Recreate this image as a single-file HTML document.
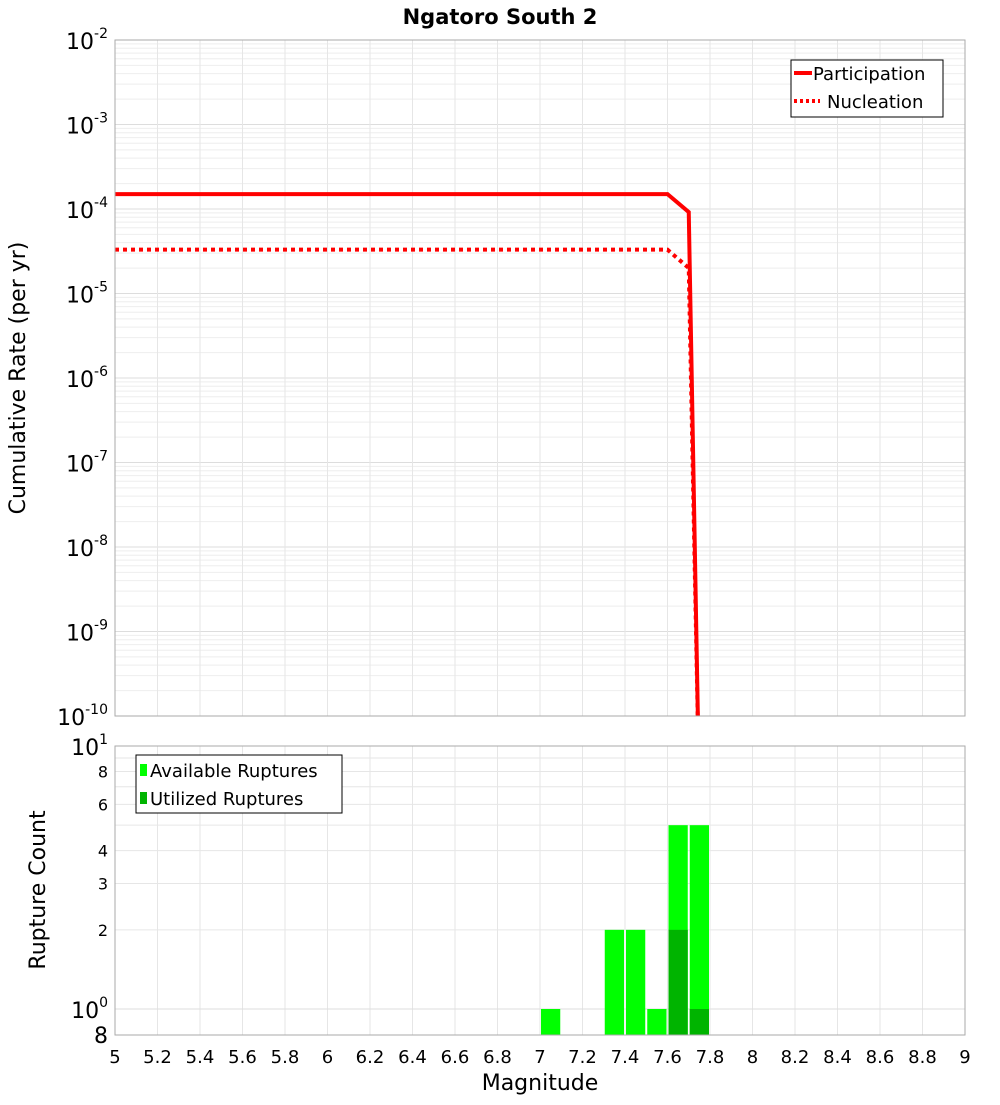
<!DOCTYPE html>
<html><head><meta charset="utf-8"><style>
body{margin:0;background:#fff;font-family:"Liberation Sans","DejaVu Sans",sans-serif}
</style></head><body>
<svg id="c" width="1000" height="1100" xmlns="http://www.w3.org/2000/svg" font-family="DejaVu Sans, Liberation Sans, sans-serif">
<text x="500" y="24" text-anchor="middle" font-size="21" font-weight="bold">Ngatoro South 2</text>
<g id="topg"></g>
<g id="botg"></g>
<text transform="translate(25,378) rotate(-90)" text-anchor="middle" font-size="22">Cumulative Rate (per yr)</text>
<text transform="translate(45,890) rotate(-90)" text-anchor="middle" font-size="22">Rupture Count</text>
<text x="540" y="1090" text-anchor="middle" font-size="22">Magnitude</text>
<g id="legs">
<g>
<rect x="791" y="60" width="152" height="57" fill="#fff" stroke="#000"/>
<line x1="794" y1="73" x2="812" y2="73" stroke="red" stroke-width="4"/>
<text x="813" y="80" font-size="18">Participation</text>
<line x1="794" y1="101" x2="820" y2="101" stroke="red" stroke-width="4" stroke-dasharray="3,3"/>
<text x="827" y="108" font-size="18">Nucleation</text>
</g>
<g>
<rect x="136" y="755" width="206" height="58" fill="#fff" stroke="#000"/>
<rect x="140" y="764" width="7" height="12" fill="#00ff00"/>
<text x="150" y="777" font-size="18">Available Ruptures</text>
<rect x="140" y="792" width="7" height="12" fill="#00b400"/>
<text x="150" y="805" font-size="18">Utilized Ruptures</text>
</g>
</g>
</svg>
<script>
const magsP=[5.0,7.6,7.7,7.75];
const partRates=[1.5e-4,1.5e-4,9.2e-5,1e-11];
const nuclRates=[3.3e-5,3.3e-5,2.0e-5,1e-11];
const binMags=[7.0,7.3,7.4,7.5,7.6,7.7];
const availCounts=[1,2,2,1,5,5];
const usedCounts=[0,0,0,0,2,1];
const xTicks=[5,5.2,5.4,5.6,5.8,6,6.2,6.4,6.6,6.8,7,7.2,7.4,7.6,7.8,8,8.2,8.4,8.6,8.8,9];
const NS='http://www.w3.org/2000/svg';
const L=115,R=965,T1=40,B1=716,T2=746,B2=1035;
const X=m=>L+(m-5)/4*(R-L);
const Y1=v=>T1+(-2-Math.log10(v))*(B1-T1)/8;
const Y2=v=>T2+(1-Math.log10(v))*263;
function mk(p,t,a){const e=document.createElementNS(NS,t);for(const k in a)e.setAttribute(k,a[k]);p.appendChild(e);return e;}
const topG=document.getElementById('topg'),botG=document.getElementById('botg');
for(let d=-10;d<-2;d++)for(let k=1;k<10;k++){const y=Y1(k*Math.pow(10,d));const g=mk(topG,'line',{x1:L,x2:R,y1:y,y2:y,stroke:k==1?'#ddd':'#eee','stroke-width':1});

}
for(const t of xTicks){const x=X(t);mk(topG,'line',{x1:x,x2:x,y1:T1,y2:B1,stroke:'#e6e6e6'});mk(botG,'line',{x1:x,x2:x,y1:T2,y2:B2,stroke:'#e6e6e6'});}
for(let d=-2;d>=-10;d--){const y=Y1(Math.pow(10,d));const t=mk(topG,'text',{x:108,y:y+9,'text-anchor':'end','font-size':22});


t.innerHTML='10<tspan dy="-11" font-size="14">'+d+'</tspan>';}
const clipT=mk(topG,'clipPath',{id:'ct'});mk(clipT,'rect',{x:L,y:T1,width:R-L,height:B1-T1});
const pp=mk(topG,'polyline',{points:magsP.map((m,i)=>X(m)+','+Y1(partRates[i])).join(' '),fill:'none',stroke:'red','stroke-width':4,'clip-path':'url(#ct)'});


const np=mk(topG,'polyline',{points:magsP.map((m,i)=>X(m)+','+Y1(nuclRates[i])).join(' '),fill:'none',stroke:'red','stroke-width':4,'stroke-dasharray':'4,4','clip-path':'url(#ct)'});


mk(topG,'rect',{x:L,y:T1,width:R-L,height:B1-T1,fill:'none',stroke:'#aaa'});
for(let k=2;k<=9;k++){const y=Y2(k);mk(botG,'line',{x1:L,x2:R,y1:y,y2:y,stroke:'#e6e6e6'});}
mk(botG,'line',{x1:L,x2:R,y1:Y2(1),y2:Y2(1),stroke:'#ddd'});
binMags.forEach((m,i)=>{const x=X(m)+1,w=X(m+0.1)-X(m)-2;
if(availCounts[i]>0){const r=mk(botG,'rect',{x:x,y:Y2(availCounts[i]),width:w,height:B2-Y2(availCounts[i]),fill:'#00ff00'});

}
if(usedCounts[i]>0){const r=mk(botG,'rect',{x:x,y:Y2(usedCounts[i]),width:w,height:B2-Y2(usedCounts[i]),fill:'#00b400'});

}});
mk(botG,'rect',{x:L,y:T2,width:R-L,height:B2-T2,fill:'none',stroke:'#aaa'});
[8,6,4,3,2].forEach(v=>{const t=mk(botG,'text',{x:108,y:Y2(v)+6,'text-anchor':'end','font-size':16});t.textContent=v;

});
[1,0].forEach(e=>{const t=mk(botG,'text',{x:108,y:Y2(Math.pow(10,e))+9,'text-anchor':'end','font-size':22});t.innerHTML='10<tspan dy="-11" font-size="14">'+e+'</tspan>';

});
{const t=mk(botG,'text',{x:108,y:B2+8,'text-anchor':'end','font-size':22});t.textContent='8';

}
for(const v of xTicks){const t=mk(botG,'text',{x:X(v),y:1063,'text-anchor':'middle','font-size':18});t.textContent=String(v);

}
const svg=document.getElementById('c');svg.appendChild(document.getElementById('legs'));
</script>
</body></html>
